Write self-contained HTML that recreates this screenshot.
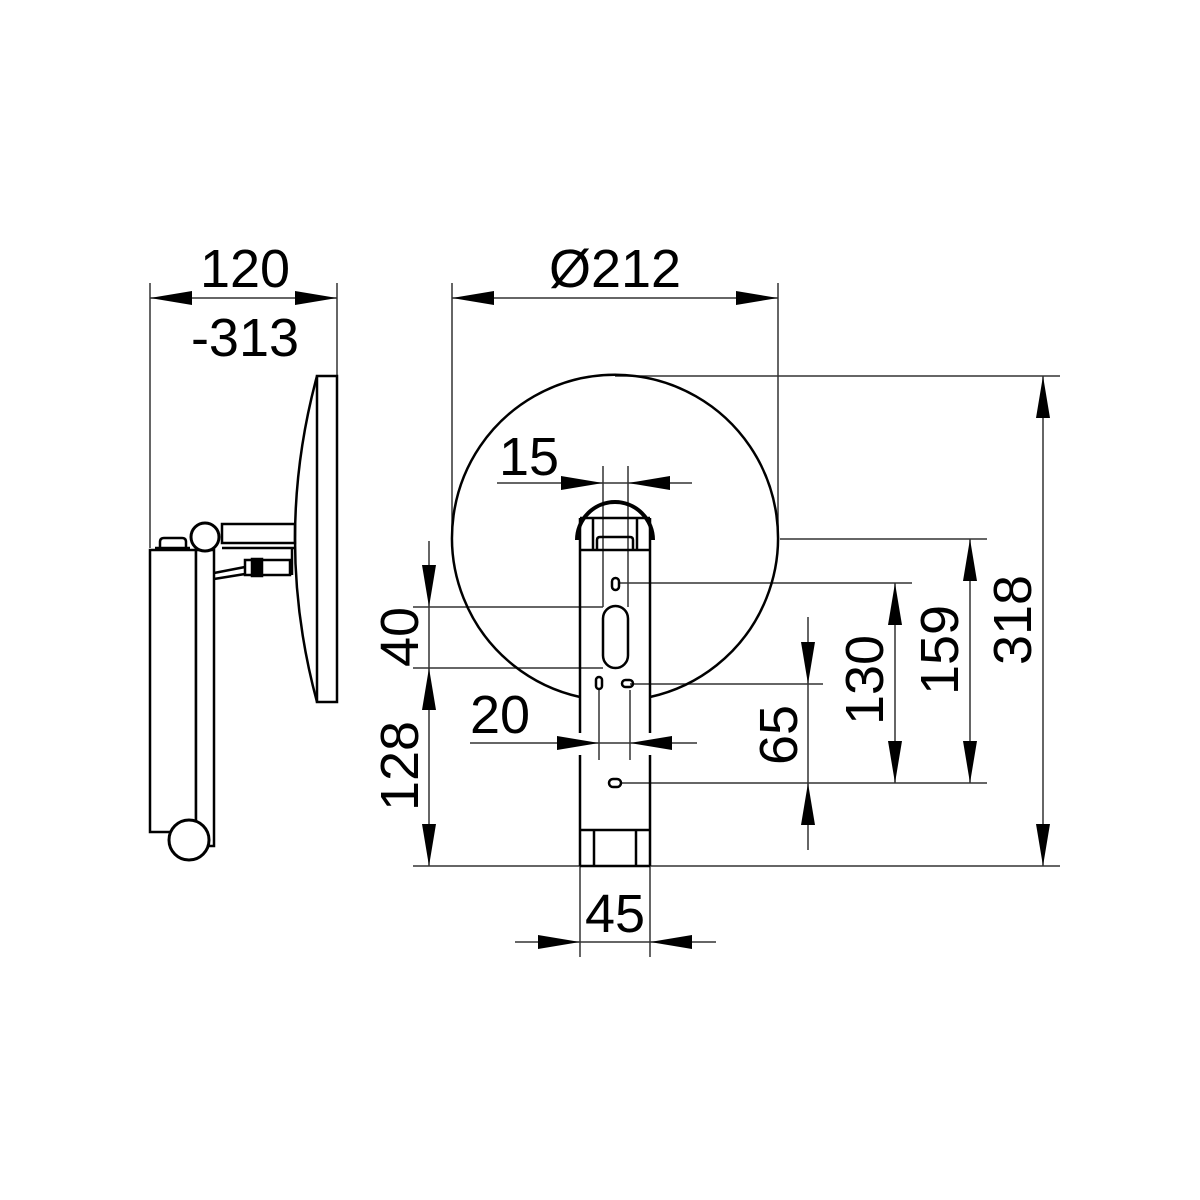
<!DOCTYPE html>
<html><head><meta charset="utf-8"><style>
html,body{margin:0;padding:0;background:#fff;}
svg{display:block;}
text{font-family:"Liberation Sans",Arial,sans-serif;font-size:54px;fill:#000;}
</style></head><body>
<svg width="1200" height="1200" viewBox="0 0 1200 1200" xmlns="http://www.w3.org/2000/svg">
<g stroke="#333" stroke-width="1.5" fill="none">
<line x1="150" y1="283" x2="150" y2="548"/>
<line x1="337" y1="283" x2="337" y2="376"/>
<line x1="150" y1="298" x2="337" y2="298"/>
<line x1="452" y1="283" x2="452" y2="535"/>
<line x1="778" y1="283" x2="778" y2="540"/>
<line x1="452" y1="298" x2="778" y2="298"/>
<line x1="497" y1="483" x2="692" y2="483"/>
<line x1="603" y1="466" x2="603" y2="607"/>
<line x1="628" y1="466" x2="628" y2="607"/>
<line x1="429" y1="541" x2="429" y2="866"/>
<line x1="413" y1="607" x2="603" y2="607"/>
<line x1="413" y1="668" x2="603" y2="668"/>
<line x1="413" y1="866" x2="1060" y2="866"/>
<line x1="470" y1="743" x2="697" y2="743"/>
<line x1="599" y1="690" x2="599" y2="760"/>
<line x1="630" y1="690" x2="630" y2="760"/>
<line x1="580" y1="866" x2="580" y2="957"/>
<line x1="650" y1="866" x2="650" y2="957"/>
<line x1="515" y1="942" x2="716" y2="942"/>
<line x1="630" y1="684" x2="823" y2="684"/>
<line x1="620" y1="783" x2="987" y2="783"/>
<line x1="620" y1="583" x2="912" y2="583"/>
<line x1="780" y1="539" x2="987" y2="539"/>
<line x1="615" y1="376" x2="1060" y2="376"/>
<line x1="808" y1="617" x2="808" y2="850"/>
<line x1="895" y1="583" x2="895" y2="783"/>
<line x1="970" y1="539" x2="970" y2="783"/>
<line x1="1043" y1="376" x2="1043" y2="866"/>
</g>
<g stroke="none" fill="#000">
<path d="M150,298 l42,-7 v14z"/><path d="M337,298 l-42,-7 v14z"/>
<path d="M452,298 l42,-7 v14z"/><path d="M778,298 l-42,-7 v14z"/>
<path d="M603,483 l-42,-7 v14z"/><path d="M628,483 l42,-7 v14z"/>
<path d="M429,607 l-7,-42 h14z"/><path d="M429,668 l-7,42 h14z"/><path d="M429,866 l-7,-42 h14z"/>
<path d="M599,743 l-42,-7 v14z"/><path d="M630,743 l42,-7 v14z"/>
<path d="M580,942 l-42,-7 v14z"/><path d="M650,942 l42,-7 v14z"/>
<path d="M808,684 l-7,-42 h14z"/><path d="M808,783 l-7,42 h14z"/>
<path d="M895,583 l-7,42 h14z"/><path d="M895,783 l-7,-42 h14z"/>
<path d="M970,539 l-7,42 h14z"/><path d="M970,783 l-7,-42 h14z"/>
<path d="M1043,376 l-7,42 h14z"/><path d="M1043,866 l-7,-42 h14z"/>
</g>
<g stroke="#000" stroke-width="2.5" fill="none">
<path d="M580,697 A163,163 0 1 1 650,697"/>
<path d="M577,540 A38,38 0 0 1 653,540" stroke-width="4"/>
<line x1="580" y1="518" x2="650" y2="518"/>
<line x1="580" y1="518" x2="580" y2="733"/>
<line x1="650" y1="518" x2="650" y2="733"/>
<line x1="580" y1="755" x2="580" y2="866"/>
<line x1="650" y1="755" x2="650" y2="866"/>
<line x1="593" y1="518" x2="593" y2="550"/>
<line x1="637" y1="518" x2="637" y2="550"/>
<line x1="580" y1="550" x2="650" y2="550"/>
<path d="M597,550 v-10 q0,-3 3,-3 h30 q3,0 3,3 v10"/>
<rect x="612" y="578" width="7" height="12" rx="3.5"/>
<rect x="603" y="606" width="25" height="62" rx="12.5"/>
<rect x="596" y="677" width="6" height="12" rx="3"/>
<rect x="622" y="680" width="11" height="7" rx="3.5"/>
<rect x="609" y="779" width="12" height="8" rx="4"/>
<line x1="580" y1="830" x2="650" y2="830"/>
<line x1="594" y1="830" x2="594" y2="866"/>
<line x1="636" y1="830" x2="636" y2="866"/>
<line x1="580" y1="866" x2="650" y2="866"/>
</g>
<g stroke="#000" stroke-width="2.5" fill="none">
<rect x="317" y="376" width="20" height="326"/>
<path d="M317,376 Q273,539 317,702"/>
<rect x="222" y="524" width="73" height="19"/>
<line x1="222" y1="548" x2="295" y2="548"/>
<line x1="292" y1="548" x2="292" y2="575"/>
<rect x="150" y="550" width="46" height="282" fill="#fff"/>
<rect x="196" y="550" width="18" height="296" fill="#fff"/>
<path d="M160,550 v-8 q0,-4 4,-4 h18 q4,0 4,4 v8"/>
<line x1="155" y1="548" x2="190" y2="548"/>
<circle cx="205" cy="537" r="14" fill="#fff" stroke-width="3"/>
<circle cx="189" cy="840" r="20" fill="#fff" stroke-width="3"/>
<path d="M214,573 L245,567 M214,579 L245,574"/>
<rect x="245" y="560" width="45" height="15"/>
<rect x="252" y="559" width="10" height="17" fill="#000"/>
</g>
<text x="245" y="287" text-anchor="middle">120</text>
<text x="245" y="356" text-anchor="middle">-313</text>
<text x="615" y="287" text-anchor="middle">Ø212</text>
<text x="529" y="475" text-anchor="middle">15</text>
<text x="500" y="733" text-anchor="middle">20</text>
<text x="615" y="932" text-anchor="middle">45</text>
<text transform="translate(418,637) rotate(-90)" text-anchor="middle">40</text>
<text transform="translate(418,766) rotate(-90)" text-anchor="middle">128</text>
<text transform="translate(797,735) rotate(-90)" text-anchor="middle">65</text>
<text transform="translate(883,680) rotate(-90)" text-anchor="middle">130</text>
<text transform="translate(958,650) rotate(-90)" text-anchor="middle">159</text>
<text transform="translate(1031,620) rotate(-90)" text-anchor="middle">318</text>
</svg>
</body></html>
